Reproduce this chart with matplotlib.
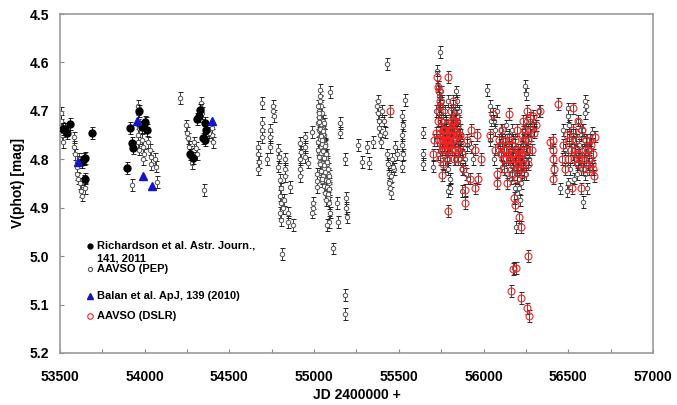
import numpy as np
import matplotlib
matplotlib.use('Agg')
import matplotlib.pyplot as plt
from matplotlib.ticker import MultipleLocator, FormatStrFormatter

plt.rcParams['font.family'] = ['Liberation Sans', 'DejaVu Sans']

# Richardson et al. (filled black)
rich_jd = [53515, 53530, 53560, 53540, 53640, 53650, 53630, 53645, 53690,
           53895, 53913, 53925, 53930, 53965, 54015, 54000, 53985,
           54267, 54285, 54326, 54310, 54355, 54360, 54358, 54320, 54345]
rich_v = [4.738, 4.738, 4.727, 4.746, 4.800, 4.797, 4.805, 4.840, 4.746,
          4.818, 4.736, 4.767, 4.777, 4.700, 4.740, 4.723, 4.733,
          4.790, 4.797, 4.698, 4.717, 4.725, 4.740, 4.760, 4.710, 4.757]

# Balan et al. (blue triangles)
balan_jd = [53606, 53955, 53990, 54043, 54397]
balan_v = [4.806, 4.720, 4.835, 4.855, 4.720]

# AAVSO PEP (open grey circles)
pep_jd = [
    # 2005
    53505, 53505, 53510, 53512, 53515, 53580, 53585, 53590, 53600, 53603,
    53608, 53620, 53625, 53630, 53640, 53645, 53612, 53600,
    # 2006
    53960, 53962, 53958, 53965, 53960, 53963, 53968, 53985, 53990, 53995,
    53988, 54030, 54035, 54040, 54060, 54065, 54005, 53925, 54070, 54020,
    54208, 54350,
    # 2007
    54332, 54335, 54338, 54245, 54250, 54255, 54290, 54300, 54260, 54270,
    54395, 54400, 54405, 54380, 54280, 54310,
    # 2008
    54692, 54757, 54760, 54762, 54692, 54695, 54690, 54670, 54668, 54672,
    54668, 54740, 54742, 54738, 54722, 54787, 54790, 54785, 54799, 54802,
    54798, 54805, 54800, 54803, 54828, 54830, 54826, 54846, 54848, 54875,
    54858, 54810, 54820, 54815,
    # 2009
    54917, 54920, 54915, 54918, 54917, 54946, 54948, 54945, 54987, 54964,
    54993, 54995, 54990, 55017, 55015, 55019,
    55035, 55037, 55033, 55040, 55030, 55045, 55035, 55050, 55025, 55040,
    55055, 55030, 55045, 55060, 55035, 55050, 55025, 55065, 55040, 55055,
    55030, 55070, 55045, 55060, 55035, 55075, 55050, 55065, 55040, 55080,
    55055, 55070, 55045, 55085, 55060, 55075, 55065, 55080, 55090, 55070,
    55028, 55042, 55052, 55062, 55038, 55048, 55058, 55068, 55032, 55044,
    55022, 55027, 55031, 55036, 55041, 55046, 55051, 55056, 55061, 55066,
    55071, 55076, 55081, 55086, 55024, 55029, 55034, 55039, 55044, 55049,
    55054, 55059, 55064, 55069, 55074, 55079, 55084, 55089,
    55094, 55094, 55090, 55135, 55140, 55153, 55155, 55182, 55190, 55192,
    55112, 55075, 55182, 55182, 55188,
    # 2010
    55259, 55283, 55312, 55325, 55348, 55371, 55375, 55380, 55385, 55390,
    55395, 55400, 55410, 55420, 55378, 55430, 55430, 55435, 55440, 55445,
    55450, 55455, 55460, 55470, 55480, 55490, 55537, 55520, 55522, 55518,
    55520, 55523, 55520, 55440, 55455, 55465,
    # 2011
    55643, 55643, 55645, 55702, 55743, 55725, 55730, 55735, 55745, 55750,
    55740, 55760, 55770, 55780, 55790, 55795, 55810, 55820, 55830, 55840,
    55845, 55850, 55855, 55860, 55870, 55800, 55790, 55757, 55775, 55890,
    55900, 55910, 55925, 55940, 55790, 55800, 55870,
    55722, 55728, 55733, 55748, 55752, 55758, 55763, 55768, 55773, 55778,
    55783, 55788, 55793, 55798, 55803, 55808, 55813, 55818, 55823, 55828,
    55833, 55838, 55843, 55848, 55853, 55858, 55863, 55868, 55880, 55895,
    # 2012
    56020, 56245, 56250, 56040, 56060, 56080, 56100, 56110, 56130, 56150,
    56160, 56170, 56180, 56190, 56200, 56210, 56220, 56230, 56240, 56250,
    56260, 56270, 56280, 56300, 56330, 56160, 56185, 56200, 56215, 56192,
    56180, 56108, 56140, 56060, 56040,
    56045, 56065, 56085, 56105, 56125, 56145, 56165, 56175, 56185, 56195,
    56205, 56215, 56225, 56235, 56245, 56255, 56265, 56275, 56295, 56155,
    56170, 56188, 56198, 56208, 56218, 56228, 56238, 56248,
    # 2013
    56499, 56500, 56599, 56602, 56600, 56560, 56570, 56540, 56520, 56530,
    56580, 56590, 56610, 56620, 56640, 56550, 56575, 56600, 56450, 56500,
    56490, 56610, 56587, 56470, 56480,
    56505, 56515, 56525, 56535, 56545, 56555, 56565, 56575, 56585, 56595,
    56605, 56615, 56625, 56512, 56532, 56552, 56572, 56592]
pep_v = [
    4.705, 4.720, 4.735, 4.750, 4.765, 4.755, 4.775, 4.790, 4.815, 4.830,
    4.840, 4.850, 4.865, 4.875, 4.845, 4.860, 4.800, 4.805,
    4.690, 4.705, 4.720, 4.735, 4.750, 4.765, 4.780, 4.760, 4.775, 4.790,
    4.800, 4.780, 4.795, 4.810, 4.800, 4.815, 4.725, 4.853, 4.847, 4.765,
    4.674, 4.864,
    4.683, 4.695, 4.705, 4.730, 4.745, 4.757, 4.765, 4.777, 4.775, 4.785,
    4.735, 4.750, 4.765, 4.745, 4.808, 4.790,
    4.684, 4.690, 4.700, 4.710, 4.725, 4.740, 4.755, 4.775, 4.790, 4.805,
    4.820, 4.740, 4.755, 4.775, 4.800, 4.780, 4.795, 4.815, 4.843, 4.860,
    4.875, 4.890, 4.910, 4.925, 4.800, 4.820, 4.835, 4.910, 4.930, 4.936,
    4.857, 4.995, 4.884, 4.900,
    4.767, 4.785, 4.800, 4.820, 4.835, 4.755, 4.775, 4.795, 4.744, 4.807,
    4.890, 4.900, 4.910, 4.830, 4.845, 4.857,
    4.657, 4.670, 4.680, 4.690, 4.700, 4.705, 4.715, 4.720, 4.725, 4.730,
    4.735, 4.740, 4.745, 4.750, 4.755, 4.760, 4.765, 4.770, 4.775, 4.780,
    4.785, 4.790, 4.795, 4.800, 4.805, 4.810, 4.815, 4.820, 4.825, 4.830,
    4.835, 4.840, 4.845, 4.850, 4.855, 4.860, 4.870, 4.880, 4.890, 4.885,
    4.712, 4.728, 4.748, 4.768, 4.788, 4.808, 4.818, 4.798, 4.758, 4.738,
    4.690, 4.705, 4.722, 4.738, 4.752, 4.768, 4.782, 4.797, 4.812, 4.826,
    4.842, 4.858, 4.872, 4.862, 4.780, 4.795, 4.810, 4.825, 4.840, 4.760,
    4.742, 4.726, 4.772, 4.790, 4.805, 4.820, 4.845, 4.835,
    4.661, 4.910, 4.930, 4.890, 4.930, 4.725, 4.745, 4.800, 4.900, 4.920,
    4.984, 4.936, 5.080, 5.120, 4.880,
    4.770, 4.806, 4.775, 4.808, 4.764, 4.690, 4.705, 4.720, 4.735, 4.750,
    4.765, 4.700, 4.720, 4.745, 4.680, 4.603, 4.790, 4.810, 4.830, 4.845,
    4.860, 4.870, 4.800, 4.820, 4.775, 4.790, 4.678, 4.710, 4.730, 4.750,
    4.770, 4.790, 4.815, 4.850, 4.835, 4.815,
    4.745, 4.790, 4.810, 4.815, 4.578, 4.617, 4.650, 4.670, 4.690, 4.710,
    4.730, 4.745, 4.700, 4.720, 4.680, 4.750, 4.760, 4.730, 4.700, 4.660,
    4.680, 4.720, 4.780, 4.800, 4.820, 4.840, 4.800, 4.780, 4.815, 4.800,
    4.770, 4.840, 4.775, 4.800, 4.866, 4.860, 4.865,
    4.700, 4.760, 4.790, 4.660, 4.680, 4.700, 4.720, 4.740, 4.760, 4.780,
    4.800, 4.820, 4.790, 4.770, 4.750, 4.730, 4.710, 4.690, 4.760, 4.780,
    4.800, 4.740, 4.710, 4.760, 4.700, 4.740, 4.780, 4.760, 4.785, 4.830,
    4.657, 4.649, 4.665, 4.690, 4.720, 4.700, 4.740, 4.760, 4.730, 4.750,
    4.780, 4.800, 4.770, 4.820, 4.790, 4.840, 4.810, 4.760, 4.740, 4.720,
    4.780, 4.800, 4.750, 4.720, 4.700, 4.840, 4.860, 4.870, 4.885, 4.940,
    5.025, 4.815, 4.830, 4.800, 4.760,
    4.720, 4.740, 4.780, 4.790, 4.760, 4.800, 4.740, 4.760, 4.790, 4.800,
    4.820, 4.780, 4.790, 4.770, 4.800, 4.760, 4.740, 4.720, 4.740, 4.820,
    4.830, 4.810, 4.830, 4.860, 4.850, 4.830, 4.800, 4.830,
    4.695, 4.710, 4.680, 4.690, 4.705, 4.720, 4.740, 4.750, 4.770, 4.790,
    4.780, 4.800, 4.760, 4.775, 4.745, 4.810, 4.820, 4.830, 4.860, 4.850,
    4.865, 4.860, 4.888, 4.740, 4.780,
    4.730, 4.750, 4.760, 4.780, 4.800, 4.790, 4.770, 4.750, 4.740, 4.760,
    4.790, 4.810, 4.780, 4.820, 4.840, 4.830, 4.800, 4.820]

# AAVSO DSLR (open red circles)
dslr_jd = [
    55448, 55725, 55790, 55735, 55740, 55730, 55745, 55755, 55760, 55770,
    55775, 55780, 55785, 55795, 55800, 55805, 55810, 55820, 55830, 55815,
    55825, 55835, 55845, 55855, 55743, 55755, 55760, 55700, 55705, 55720,
    55890, 55950, 55920, 55965, 55985, 55950, 55900, 55925, 55960, 55790,
    55890,
    55732, 55738, 55742, 55748, 55752, 55758, 55762, 55766, 55772, 55778,
    55782, 55788, 55792, 55798, 55802, 55808, 55812, 55818, 55822, 55828,
    55832, 55838, 55842, 55848, 55852, 55858, 55862, 55870, 55878, 55745,
    55765, 55785,
    56055, 56150, 56040, 56070, 56090, 56110, 56120, 56130, 56150, 56165,
    56175, 56185, 56195, 56205, 56215, 56225, 56235, 56255, 56275, 56290,
    56333, 56310, 56300, 56285, 56260, 56240, 56220, 56080, 56080, 56200,
    56180, 56186, 56210, 56221, 56263, 56174, 56190, 56162, 56221, 56257,
    56268, 56140, 56120,
    56095, 56105, 56115, 56125, 56135, 56145, 56155, 56165, 56175, 56185,
    56195, 56205, 56215, 56225, 56235, 56245, 56255, 56265, 56275, 56170,
    56190, 56210, 56230, 56250,
    56440, 56530, 56560, 56580, 56410, 56412, 56408, 56415, 56410, 56390,
    56658, 56645, 56648, 56650, 56520, 56575, 56470, 56490, 56500, 56540,
    56555, 56600, 56620, 56630, 56460, 56480,
    56505, 56515, 56525, 56535, 56545, 56555, 56565, 56585, 56595, 56605,
    56615, 56625, 56635, 56640]
dslr_v = [
    4.700, 4.630, 4.630, 4.660, 4.690, 4.720, 4.745, 4.770, 4.750, 4.760,
    4.740, 4.730, 4.760, 4.770, 4.740, 4.720, 4.700, 4.680, 4.720, 4.780,
    4.800, 4.755, 4.730, 4.750, 4.800, 4.833, 4.810, 4.790, 4.760, 4.745,
    4.864, 4.860, 4.840, 4.840, 4.800, 4.780, 4.760, 4.740, 4.750, 4.907,
    4.890,
    4.650, 4.700, 4.760, 4.720, 4.780, 4.740, 4.760, 4.770, 4.780, 4.750,
    4.770, 4.760, 4.780, 4.760, 4.770, 4.750, 4.740, 4.720, 4.760, 4.740,
    4.780, 4.710, 4.750, 4.780, 4.800, 4.770, 4.750, 4.790, 4.820, 4.680,
    4.740, 4.800,
    4.707, 4.707, 4.750, 4.780, 4.760, 4.740, 4.780, 4.800, 4.760, 4.790,
    4.810, 4.760, 4.740, 4.780, 4.800, 4.750, 4.720, 4.700, 4.715, 4.710,
    4.700, 4.730, 4.745, 4.780, 4.810, 4.830, 4.820, 4.830, 4.850, 4.840,
    4.880, 4.895, 4.920, 4.940, 5.000, 5.027, 5.025, 5.072, 5.087, 5.108,
    5.124, 4.850, 4.820,
    4.770, 4.790, 4.800, 4.760, 4.780, 4.790, 4.800, 4.770, 4.790, 4.800,
    4.820, 4.810, 4.780, 4.790, 4.760, 4.740, 4.780, 4.760, 4.740, 4.830,
    4.800, 4.790, 4.810, 4.780,
    4.686, 4.695, 4.720, 4.740, 4.760, 4.780, 4.800, 4.820, 4.840, 4.765,
    4.753, 4.790, 4.820, 4.835, 4.860, 4.860, 4.770, 4.750, 4.800, 4.780,
    4.810, 4.780, 4.800, 4.760, 4.800, 4.820,
    4.760, 4.780, 4.740, 4.800, 4.760, 4.790, 4.800, 4.820, 4.800, 4.760,
    4.780, 4.820, 4.770, 4.810]

ERR = 0.012

fig = plt.figure(figsize=(6.77, 4.05), dpi=100)
ax = fig.add_axes([60 / 677, 1 - 353 / 405, 593 / 677, 339 / 405])

ax.errorbar(pep_jd, pep_v, yerr=ERR, fmt='o', ms=3.2, mfc='white', mec='#555555', mew=0.7,
            ecolor='#222222', elinewidth=0.6, capsize=1.8, capthick=0.6, zorder=2)
ax.errorbar(rich_jd, rich_v, yerr=ERR, fmt='o', ms=5, mfc='black', mec='black',
            ecolor='black', elinewidth=0.6, capsize=1.8, capthick=0.6, zorder=3)
ax.errorbar(dslr_jd, dslr_v, yerr=ERR, fmt='o', ms=5, mfc='none', mec='#ff2020', mew=0.8,
            ecolor='#333333', elinewidth=0.6, capsize=1.8, capthick=0.6, zorder=4)
ax.plot(balan_jd, balan_v, '^', ms=5.5, color='#1414c8', zorder=5)

ax.set_xlim(53500, 57000)
ax.set_ylim(5.2, 4.5)
ax.xaxis.set_major_locator(MultipleLocator(500))
ax.xaxis.set_minor_locator(MultipleLocator(250))
ax.yaxis.set_major_locator(MultipleLocator(0.1))
ax.yaxis.set_major_formatter(FormatStrFormatter('%.1f'))
ax.tick_params(which='both', direction='in', color='#888888', length=3, width=0.8)
ax.tick_params(axis='x', pad=12)
ax.tick_params(axis='y', pad=8)
for lab in ax.get_xticklabels() + ax.get_yticklabels():
    lab.set_fontsize(10)
    lab.set_fontweight('bold')
for sp in ax.spines.values():
    sp.set_color('#999999')
    sp.set_linewidth(1.2)

ax.set_xlabel('JD 2400000 +', fontsize=10, fontweight='bold', labelpad=3)
ax.set_ylabel('V(phot) [mag]', fontsize=10, fontweight='bold', labelpad=3)

# legend drawn by hand (Excel-style spacing), positions in axes fractions
legend_rows = [
    (dict(marker='o', ms=3.5, color='black'), 'Richardson et al. Astr. Journ.,\n141, 2011', 0.316),
    (dict(marker='o', ms=3, mfc='white', mec='#555555', mew=0.8), 'AAVSO (PEP)', 0.248),
    (dict(marker='^', ms=4.5, color='#1414c8'), 'Balan et al. ApJ, 139 (2010)', 0.168),
    (dict(marker='o', ms=4, mfc='white', mec='#ff2020', mew=0.8), 'AAVSO (DSLR)', 0.109),
]
for style, text, yy in legend_rows:
    ax.plot([0.051], [yy], ls='', transform=ax.transAxes, clip_on=False, zorder=6, **style)
    if '\n' in text:
        ax.text(0.062, yy + 0.017, text, transform=ax.transAxes, va='top', ha='left',
                fontsize=8, fontweight='bold', linespacing=1.4)
    else:
        ax.text(0.062, yy, text, transform=ax.transAxes, va='center', ha='left',
                fontsize=8, fontweight='bold')

fig.savefig('out.png', dpi=100)
